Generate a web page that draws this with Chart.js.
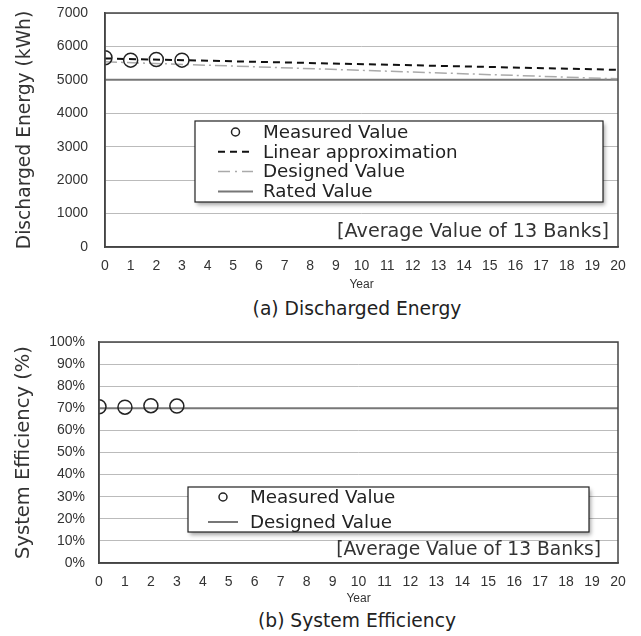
<!DOCTYPE html>
<html>
<head>
<meta charset="utf-8">
<script src="https://cdn.jsdelivr.net/npm/chart.js@4"></script>
<style>
  body { margin: 0; background: #fff; }
  #wrap { position: relative; width: 641px; height: 636px; }
  .box { position: absolute; left: 0; width: 641px; }
  .cap { position: absolute; left: 0; width: 714px; text-align: center;
         font-family: "DejaVu Sans", sans-serif; font-size: 18.7px; color: #222; z-index: 2; }
</style>
</head>
<body>
<div id="wrap">
  <div class="box" style="top:0;height:296px"><canvas id="energy" width="641" height="296"></canvas></div>
  <div class="cap" style="top:298px">(a) Discharged Energy</div>
  <div class="box" style="top:320px;height:290px"><canvas id="eff" width="641" height="290"></canvas></div>
  <div class="cap" style="top:610px">(b) System Efficiency</div>
</div>
<script>
// measured years and values
const years = [0, 1, 2, 3];
const measuredEnergy = [5660, 5590, 5610, 5590];
const measuredEff = [70.7, 70.5, 71.2, 71.0];

// line end points (year 0 and year 20)
const lineYears = [0, 20];
const linearEnergy = [5640, 5300];
const designedEnergy = [5540, 5030];
const ratedEnergy = [5000, 5000];
const designedEff = [70, 70];

const noteText = '[Average Value of 13 Banks]';

function pts(xs, ys) {
  return xs.map(function(x, i) { return {x: x, y: ys[i]}; });
}

// legend box + note drawn inside the plot
const insideLegend = {
  id: 'insideLegend',
  afterDraw: function(chart, args, opts) {
    var ctx = chart.ctx;
    var a = chart.chartArea;
    var x1 = a.left + opts.left, y1 = a.top + opts.top;
    var w = opts.width, h = opts.height;
    ctx.save();
    ctx.shadowColor = 'rgba(0,0,0,0.35)';
    ctx.shadowBlur = 4;
    ctx.shadowOffsetX = 2;
    ctx.shadowOffsetY = 3;
    ctx.fillStyle = '#fff';
    ctx.fillRect(x1, y1, w, h);
    ctx.shadowColor = 'transparent';
    ctx.strokeStyle = '#222';
    ctx.lineWidth = 1.2;
    ctx.strokeRect(x1, y1, w, h);

    ctx.font = opts.fontSize + 'px "DejaVu Sans"';
    ctx.textBaseline = 'middle';
    chart.data.datasets.forEach(function(ds, i) {
      var y = y1 + opts.firstRow + i * opts.rowGap;
      var mx = x1 + opts.markX;
      if (ds.showLine === false) {
        ctx.beginPath();
        ctx.setLineDash([]);
        ctx.lineWidth = 1.5;
        ctx.strokeStyle = '#222';
        ctx.arc(mx + opts.markW / 2, y, 4, 0, Math.PI * 2);
        ctx.stroke();
      } else {
        ctx.beginPath();
        ctx.setLineDash(ds.legendDash || ds.borderDash || []);
        ctx.lineWidth = ds.borderWidth;
        ctx.strokeStyle = ds.borderColor;
        ctx.moveTo(mx, y);
        ctx.lineTo(mx + opts.markW, y);
        ctx.stroke();
        ctx.setLineDash([]);
      }
      ctx.fillStyle = '#222';
      ctx.textAlign = 'left';
      ctx.fillText(ds.label, x1 + opts.textX, y + 1);
    });

    ctx.font = opts.noteSize + 'px "DejaVu Sans"';
    ctx.fillStyle = '#333';
    ctx.textAlign = 'right';
    ctx.fillText(noteText, a.right - opts.noteRight, a.bottom - opts.noteBottom);
    ctx.restore();
  }
};

function xAxis(h) {
  return {
    type: 'linear', min: 0, max: 20,
    border: { display: true, color: '#444', width: 1.5 },
    grid: { display: false, drawTicks: false },
    ticks: { stepSize: 1, padding: 11, color: '#333', font: { family: 'Liberation Sans', size: 14 } },
    title: { display: true, text: 'Year', color: '#333', padding: { top: 0, bottom: 4 },
             font: { family: 'Liberation Sans', size: 12 } },
    afterFit: function(s) { s.height = h; }
  };
}

// tick gap is made with an invisible tick mark so it does not push the plot top down
function yAxis(w, titleText, titleSize, titlePad, gap, max, step, cb) {
  return {
    min: 0, max: max,
    border: { display: true, color: '#444', width: 1.5 },
    grid: { color: '#bbb', lineWidth: 1, drawTicks: true, tickLength: gap - 3, tickColor: 'rgba(0,0,0,0)' },
    ticks: { stepSize: step, padding: 3, color: '#333', callback: cb,
             font: { family: 'Liberation Sans', size: 14 } },
    title: { display: true, text: titleText, color: '#333', padding: { top: titlePad, bottom: 0 },
             font: { family: 'DejaVu Sans', size: titleSize } },
    afterFit: function(s) { s.width = w; }
  };
}

// full box round the plot
const frame = {
  id: 'frame',
  afterDatasetsDraw: function(chart) {
    var a = chart.chartArea, ctx = chart.ctx;
    ctx.save();
    ctx.strokeStyle = '#444';
    ctx.lineWidth = 1.5;
    ctx.strokeRect(a.left, a.top, a.right - a.left, a.bottom - a.top);
    ctx.restore();
  }
};

var measuredStyle = {
  showLine: false, pointStyle: 'circle', pointRadius: 7, pointHoverRadius: 7,
  pointBorderWidth: 1.5, pointBorderColor: '#222', pointBackgroundColor: 'rgba(0,0,0,0)',
  borderColor: '#222', order: 0
};

new Chart(document.getElementById('energy'), {
  type: 'line',
  data: {
    datasets: [
      Object.assign({ label: 'Measured Value', data: pts(years, measuredEnergy) }, measuredStyle),
      { label: 'Linear approximation', data: pts(lineYears, linearEnergy), borderColor: '#111',
        borderWidth: 2, borderDash: [7, 5], legendDash: [7, 5], pointRadius: 0, order: 1 },
      { label: 'Designed Value', data: pts(lineYears, designedEnergy), borderColor: '#aaa',
        borderWidth: 1.5, borderDash: [12, 4, 2, 4], legendDash: [12, 5, 2, 5], pointRadius: 0, order: 2 },
      { label: 'Rated Value', data: pts(lineYears, ratedEnergy), borderColor: '#777',
        borderWidth: 2, pointRadius: 0, order: 3 }
    ]
  },
  options: {
    responsive: false, animation: false,
    layout: { padding: { left: 0, right: 23, top: 13, bottom: 0 } },
    scales: {
      x: xAxis(49),
      y: yAxis(105, 'Discharged Energy (kWh)', 18.7, 13.5, 17, 7000, 1000)
    },
    plugins: {
      legend: { display: false }, tooltip: { enabled: false },
      insideLegend: { left: 90, top: 108, width: 408, height: 81, markX: 23, markW: 35,
                      textX: 68, firstRow: 11, rowGap: 19.8, fontSize: 18.3,
                      noteSize: 19.2, noteRight: 9, noteBottom: 15 }
    }
  },
  plugins: [insideLegend, frame]
});

new Chart(document.getElementById('eff'), {
  type: 'line',
  data: {
    datasets: [
      Object.assign({ label: 'Measured Value', data: pts(years, measuredEff) }, measuredStyle),
      { label: 'Designed Value', data: pts(lineYears, designedEff), borderColor: '#777',
        borderWidth: 2, pointRadius: 0, order: 1 }
    ]
  },
  options: {
    responsive: false, animation: false,
    layout: { padding: { left: 0, right: 23, top: 22, bottom: 0 } },
    scales: {
      x: xAxis(47),
      y: yAxis(99, 'System Efficiency (%)', 19.5, 12, 14, 100, 10, function(v) { return v + '%'; })
    },
    plugins: {
      legend: { display: false }, tooltip: { enabled: false },
      insideLegend: { left: 89, top: 145, width: 401, height: 45, markX: 20, markW: 30,
                      textX: 62, firstRow: 10, rowGap: 25, fontSize: 18.3,
                      noteSize: 18.7, noteRight: 17, noteBottom: 13 }
    }
  },
  plugins: [insideLegend, frame]
});
</script>
</body>
</html>
